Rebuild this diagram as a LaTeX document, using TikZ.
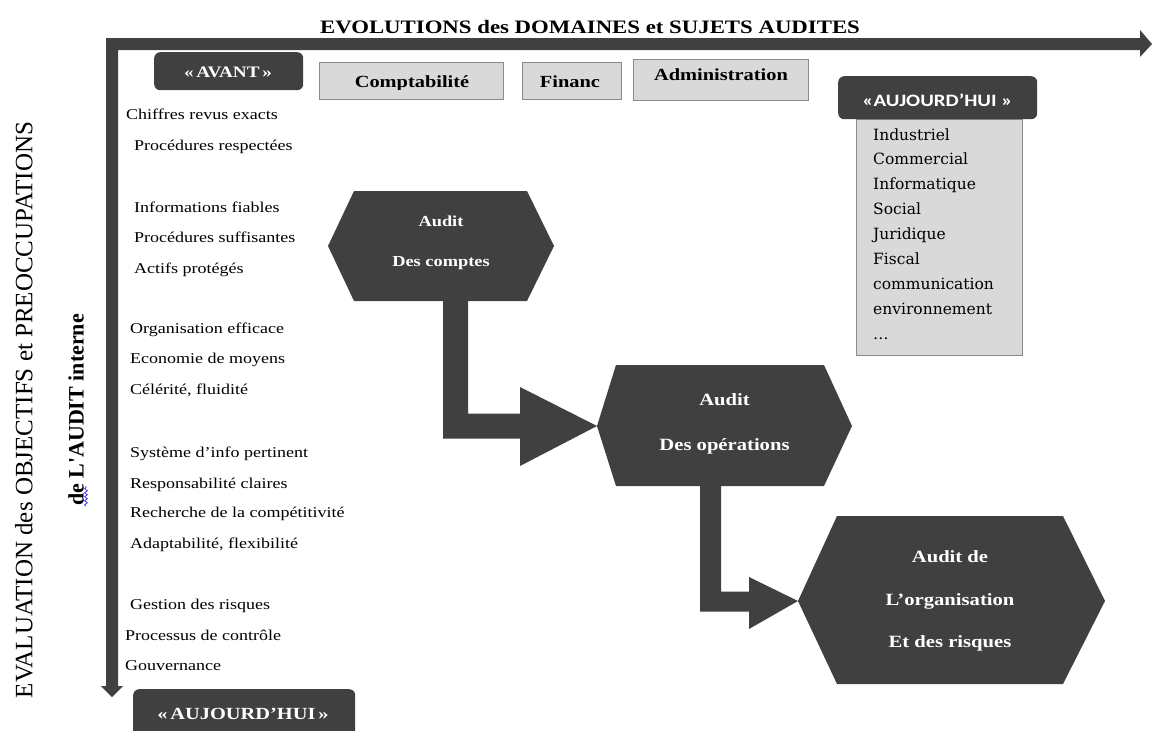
\documentclass[tikz,border=0pt]{standalone}
\usepackage{fontspec}
\setmainfont{Liberation Serif}[FakeStretch=1.2]
\newfontfamily\plainserif{Liberation Serif}
\newfontfamily\headsans{Carlito}[FakeStretch=1.2]
\newfontfamily\slabserif{DejaVu Serif}
\usetikzlibrary{calc,decorations.pathmorphing}
\definecolor{darkfill}{HTML}{404040}
\definecolor{panel}{HTML}{D9D9D9}
\definecolor{panelline}{HTML}{8A8A8A}
\newcommand{\setfs}[1]{\fontsize{#1pt}{#1pt}\selectfont}
\newcommand{\setfsl}[2]{\fontsize{#1pt}{#2pt}\selectfont}
\begin{document}
\begin{tikzpicture}[x=1pt,y=-1pt,
  darkbox/.style={fill=darkfill, rounded corners=6pt, text=white, inner sep=0pt},
  panelbox/.style={fill=panel, draw=panelline, line width=1pt, inner sep=0pt, anchor=north west},
  boxlabel/.style={anchor=base, inner sep=0pt, font=\bfseries\setfs{17}},
  listitem/.style={anchor=base west, inner sep=0pt, font=\setfs{15}},
  domainitem/.style={anchor=base west, inner sep=0pt, font=\slabserif\setfs{15.5}},
  hextext/.style={text=white, align=center, inner sep=0pt},
  hexshape/.style={fill=darkfill},
  blockarrow/.style={fill=darkfill}]
\useasboundingbox (0,0) rectangle (1152,731);
\fill[white] (0,0) rectangle (1152,731);

% ---- axes -------------------------------------------------------------
\coordinate (origin) at (112,44);
\coordinate (xend) at (1152,44);
\coordinate (yend) at (112,697);
\fill[darkfill] ($(origin)+(-6,-6)$) -- ($(xend)+(-12,-6)$) -- ($(xend)+(-12,-14)$)
  -- (xend) -- ($(xend)+(-12,13)$) -- ($(xend)+(-12,6)$) -- ($(origin)+(6,6)$)
  -- ($(yend)+(6,-11)$) -- ($(yend)+(11,-11)$) -- (yend) -- ($(yend)+(-11,-11)$)
  -- ($(yend)+(-6,-11)$) -- cycle;

\node[font=\bfseries\setfs{19}, inner sep=0pt] (title) at (590,27)
  {EVOLUTIONS des DOMAINES et SUJETS AUDITES};
\node[rotate=90, font=\plainserif\setfs{25}, inner sep=0pt] (ylabel) at (24,410)
  {EVALUATION des OBJECTIFS et PREOCCUPATIONS};
\node[rotate=90, font=\plainserif\bfseries\setfs{22}, inner sep=0pt] (ylabelb) at (76,410)
  {de L\textquotesingle AUDIT interne};
\draw[blue!80, line width=0.8pt, decorate, decoration={snake, amplitude=1.4pt, segment length=4pt}]
  (86,506) -- (86,486);

% ---- top row ------------------------------------------------------------
\node[darkbox, minimum width=149pt, minimum height=38pt, anchor=north west] (avant) at (154,52) {};
\node[boxlabel, text=white, font=\bfseries\setfs{16}] (avantt) at (228,77) {«\,AVANT\,»};

\node[panelbox, minimum width=184pt, minimum height=37pt] (compta) at (319,62) {};
\begin{scope}
  \clip (319,62) rectangle (503,89);
  \node[boxlabel] (comptat) at (412,87) {Comptabilité};
\end{scope}
\node[panelbox, minimum width=99pt, minimum height=37pt] (fin) at (522,62) {};
\node[boxlabel] (fint) at (570,87) {Financ};
\node[panelbox, minimum width=175pt, minimum height=41pt] (admin) at (633,59) {};
\node[boxlabel] (admint) at (721,80) {Administration};

% ---- right panel ----------------------------------------------------------
\node[panelbox, minimum width=166pt, minimum height=236pt] (domains) at (856,119) {};
\node[darkbox, minimum width=199pt, minimum height=43pt, anchor=north west] (today) at (838,76) {};
\node[anchor=base, inner sep=0pt, text=white, font=\headsans\bfseries\setfs{17.4}] (todayt) at (937.5,106) {«AUJOURD’HUI »};
\foreach \t [count=\i from 0] in {Industriel,Commercial,Informatique,Social,Juridique,Fiscal,communication,environnement,…}
  \node[domainitem] (d\i) at (873,{140+24.9*\i}) {\t};

% ---- left list ------------------------------------------------------------
\node[listitem] (l1) at (126,119) {Chiffres revus exacts};
\node[listitem] (l2) at (134,150) {Procédures respectées};
\node[listitem] (l3) at (134,212) {Informations fiables};
\node[listitem] (l4) at (134,242) {Procédures suffisantes};
\node[listitem] (l5) at (134,273) {Actifs protégés};
\node[listitem] (l6) at (130,333) {Organisation efficace};
\node[listitem] (l7) at (130,363) {Economie de moyens};
\node[listitem] (l8) at (130,394) {Célérité, fluidité};
\node[listitem] (l9) at (130,457) {Système d’info pertinent};
\node[listitem] (l10) at (130,488) {Responsabilité claires};
\node[listitem] (l11) at (130,517) {Recherche de la compétitivité};
\node[listitem] (l12) at (130,548) {Adaptabilité, flexibilité};
\node[listitem] (l13) at (130,609) {Gestion des risques};
\node[listitem] (l14) at (125,640) {Processus de contrôle};
\node[listitem] (l15) at (125,670) {Gouvernance};

\node[darkbox, minimum width=222pt, minimum height=60pt, anchor=north west] (todayb) at (133,689) {};
\node[boxlabel, text=white] (todaybt) at (243,719) {«\,AUJOURD’HUI\,»};

% ---- hexagons -------------------------------------------------------------
\coordinate (c1) at (441,246);
\fill[hexshape] ($(c1)+(-113,0)$) -- ($(c1)+(-87,-55)$) -- ($(c1)+(86,-55)$)
  -- ($(c1)+(113,0)$) -- ($(c1)+(86,55)$) -- ($(c1)+(-87,55)$) -- cycle;
\coordinate (h1-s) at ($(c1)+(14.5,55)$);

\coordinate (c2) at (724.5,426);
\fill[hexshape] ($(c2)+(-127.5,0)$) -- ($(c2)+(-108.5,-61)$) -- ($(c2)+(99.5,-61)$)
  -- ($(c2)+(127.5,0)$) -- ($(c2)+(99.5,60)$) -- ($(c2)+(-108.5,60)$) -- cycle;
\coordinate (h2-w) at ($(c2)+(-127.5,0)$);
\coordinate (h2-s) at ($(c2)+(-14,60)$);

\coordinate (c3) at (951,601);
\fill[hexshape] ($(c3)+(-153,0)$) -- ($(c3)+(-114,-85)$) -- ($(c3)+(112,-85)$)
  -- ($(c3)+(154,0)$) -- ($(c3)+(112,83)$) -- ($(c3)+(-114,83)$) -- cycle;
\coordinate (h3-w) at ($(c3)+(-153,0)$);

\node[hextext, font=\bfseries\setfsl{15.3}{40}] (h1) at (441,243) {Audit\\Des comptes};
\node[hextext, font=\bfseries\setfsl{17.2}{45}] (h2) at (724.5,424) {Audit\\Des opérations};
\node[hextext, font=\bfseries\setfsl{17.2}{42.5}] (h3) at (950,601) {Audit de\\L’organisation\\Et des risques};

% ---- block arrows between the audits --------------------------------------
\fill[blockarrow] ($(h1-s)+(-12.5,0)$) -- ($(h1-s)+(12.5,0)$)
  -- ($(h1-s |- h2-w)+(12.5,-12.5)$) -- ($(h2-w)+(-77,-12.5)$) -- ($(h2-w)+(-77,-39)$)
  -- (h2-w) -- ($(h2-w)+(-77,40)$) -- ($(h2-w)+(-77,12.5)$)
  -- ($(h1-s |- h2-w)+(-12.5,12.5)$) -- cycle;
\fill[blockarrow] ($(h2-s)+(-10.5,0)$) -- ($(h2-s)+(10.5,0)$)
  -- ($(h2-s |- h3-w)+(10.5,-9.5)$) -- ($(h3-w)+(-49,-9.5)$) -- ($(h3-w)+(-49,-24)$)
  -- (h3-w) -- ($(h3-w)+(-49,28)$) -- ($(h3-w)+(-49,10.5)$)
  -- ($(h2-s |- h3-w)+(-10.5,10.5)$) -- cycle;
\end{tikzpicture}
\end{document}
